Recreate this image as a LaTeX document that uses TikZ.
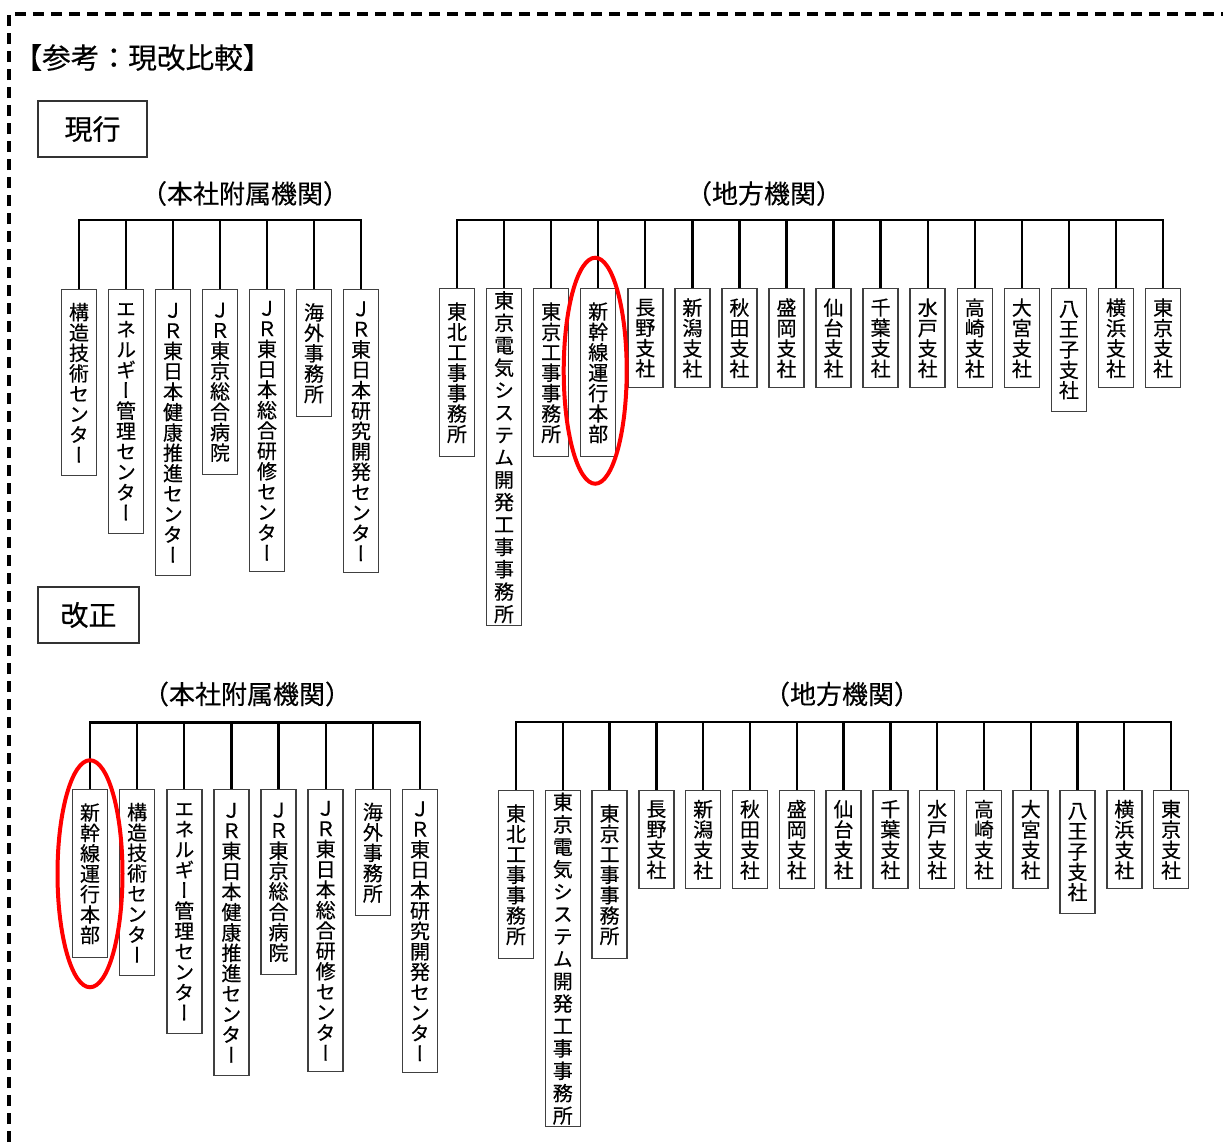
\documentclass[tikz,border=0pt]{standalone}
\usepackage{fontspec}
\setmainfont{Noto Sans CJK JP}[FakeBold=0.4]
\newfontfamily\tatefont[RawFeature=+vert,FakeBold=0.4]{Noto Sans CJK JP}
\makeatletter
% one character per line, for the vertical labels
\newcommand\tate[2][15.3pt]{\vbox{\baselineskip=#1\relax
  \expandafter\@tfor\expandafter\tch\expandafter:\expandafter=#2\do{\hbox to 1em{\hss\tch\hss}}}}
\makeatother
\tikzset{
  orgbox/.style={draw=black!75, line width=1.1pt, anchor=north, inner sep=0pt,
    minimum width=26.25pt, font=\tatefont\fontsize{15}{15}\selectfont},
  link/.style={line width=1.8pt},
  head/.style={inner sep=0pt, font=\fontsize{19.5}{19.5}\selectfont},
  tagbox/.style={draw=black!80, line width=1.3pt, minimum height=42pt,
    font=\fontsize{21}{21}\selectfont},
  hilite/.style={red, line width=3pt},
  dashframe/.style={line width=2.5pt, dash pattern=on 8.5pt off 5pt}
}
\begin{document}
\begin{tikzpicture}[x=0.75pt,y=-0.75pt]
\useasboundingbox (0,0) rectangle (1223,1142);
\draw[dashframe] (9,1142) -- (9,14) -- (1223,14);
\node[inner sep=0pt, font=\fontsize{21.5}{21.5}\selectfont] (title) at (142.5,57.5) {【参考：現改比較】};

% current
\node[tagbox, minimum width=81.75pt] (curTag) at (92.5,129) {現行};
\node[head] (curHhead) at (245,193.5) {（本社附属機関）};
\node[head] (curChead) at (764,193.5) {（地方機関）};
\coordinate (curHbar) at (0,220);
\coordinate (curCbar) at (0,220);
\foreach \i/\h/\txt in {1/186/構造技術センター, 2/244/エネルギー管理センター,
    3/286/ＪＲ東日本健康推進センター, 4/185/ＪＲ東京総合病院,
    5/282/ＪＲ東日本総合研修センター, 6/127/海外事務所, 7/283/ＪＲ東日本研究開発センター}
  \node[orgbox, minimum height=\h*0.75pt] (curH\i) at ({79+47*(\i-1)},289) {\tate{\txt}};
\foreach \i/\h/\p/\txt in {1/168/15.3/東北工事事務所, 2/337/16.8/東京電気システム開発工事事務所,
    3/168/15.3/東京工事事務所, 4/168/15.3/新幹線運行本部, 5/99/15.3/長野支社,
    6/99/15.3/新潟支社, 7/99/15.3/秋田支社, 8/99/15.3/盛岡支社, 9/99/15.3/仙台支社,
    10/99/15.3/千葉支社, 11/99/15.3/水戸支社, 12/99/15.3/高崎支社, 13/99/15.3/大宮支社,
    14/123/15.3/八王子支社, 15/99/15.3/横浜支社, 16/99/15.3/東京支社}
  \node[orgbox, minimum height=\h*0.75pt] (curC\i) at ({457+47.07*(\i-1)},288) {\tate[\p pt]{\txt}};
\draw[link] (curH1.north) |- (curHbar -| curH7.north) -- (curH7.north);
\foreach \i in {2,...,6}
  \draw[link] (curH\i.north) -- (curHbar -| curH\i.north);
\draw[link] (curC1.north) |- (curCbar -| curC16.north) -- (curC16.north);
\foreach \i in {2,...,15}
  \draw[link] (curC\i.north) -- (curCbar -| curC\i.north);
\draw[hilite] ([shift={(-3,-2)}]curC4.center) ellipse [x radius=31.5, y radius=113];

% revised
\node[tagbox, minimum width=75.75pt] (revTag) at (88.5,615) {改正};
\node[head] (revHhead) at (247,694) {（本社附属機関）};
\node[head] (revChead) at (842,694) {（地方機関）};
\coordinate (revHbar) at (0,722.5);
\coordinate (revCbar) at (0,722);
\foreach \i/\h/\txt in {1/168/新幹線運行本部, 2/186/構造技術センター, 3/244/エネルギー管理センター,
    4/286/ＪＲ東日本健康推進センター, 5/185/ＪＲ東京総合病院,
    6/282/ＪＲ東日本総合研修センター, 7/126/海外事務所, 8/283/ＪＲ東日本研究開発センター}
  \node[orgbox, minimum height=\h*0.75pt] (revH\i) at ({90+47.14*(\i-1)},789) {\tate{\txt}};
\foreach \i/\h/\p/\txt in {1/168/15.3/東北工事事務所, 2/336/16.8/東京電気システム開発工事事務所,
    3/168/15.3/東京工事事務所, 4/98/15.3/長野支社, 5/98/15.3/新潟支社,
    6/98/15.3/秋田支社, 7/98/15.3/盛岡支社, 8/98/15.3/仙台支社, 9/98/15.3/千葉支社,
    10/98/15.3/水戸支社, 11/98/15.3/高崎支社, 12/98/15.3/大宮支社,
    13/123/15.3/八王子支社, 14/98/15.3/横浜支社, 15/98/15.3/東京支社}
  \node[orgbox, minimum height=\h*0.75pt] (revC\i) at ({516+46.79*(\i-1)},790) {\tate[\p pt]{\txt}};
\draw[link] (revH1.north) |- (revHbar -| revH8.north) -- (revH8.north);
\foreach \i in {2,...,7}
  \draw[link] (revH\i.north) -- (revHbar -| revH\i.north);
\draw[link] (revC1.north) |- (revCbar -| revC15.north) -- (revC15.north);
\foreach \i in {2,...,14}
  \draw[link] (revC\i.north) -- (revCbar -| revC\i.north);
\draw[hilite] (revH1.center) ellipse [x radius=32.5, y radius=113.5];
\end{tikzpicture}
\end{document}
